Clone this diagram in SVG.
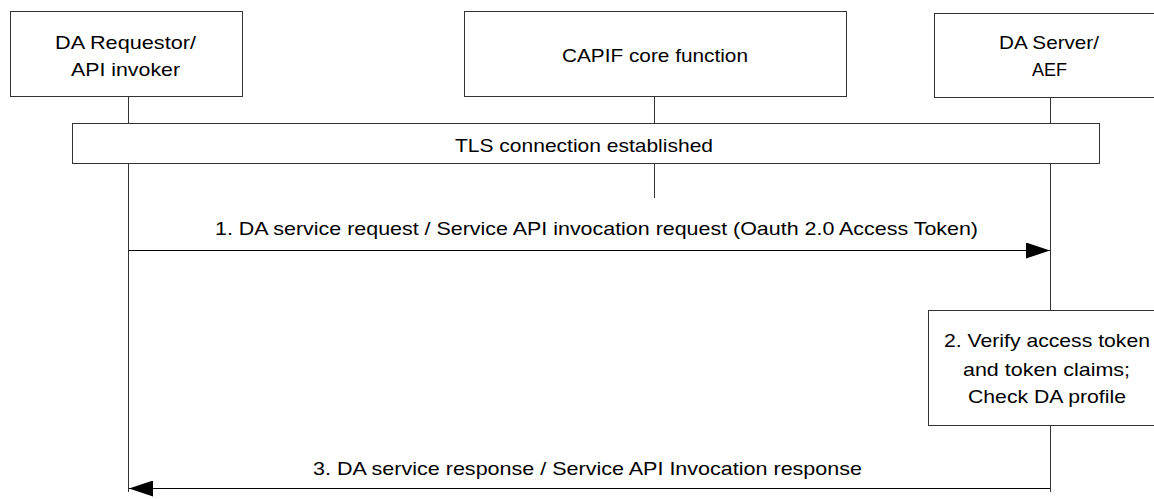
<svg xmlns="http://www.w3.org/2000/svg" width="1154" height="499" viewBox="0 0 1154 499">
<defs>
<style>
.box{fill:#fff;stroke:#333;stroke-width:1}
.life{stroke:#333;stroke-width:1;fill:none}
.msg{stroke:#000;stroke-width:1;fill:none}
text{font-family:"Liberation Sans",Arial,sans-serif;font-size:19px;fill:#000;text-anchor:middle}
</style>
<marker id="ah" viewBox="0 0 24 16" refX="24" refY="8" markerWidth="24" markerHeight="16" markerUnits="userSpaceOnUse" orient="auto">
<path d="M0,0 L24,8 L0,16 Z" fill="#000"/>
</marker>
</defs>
<g id="lifelines">
<line class="life" x1="128.5" y1="96" x2="128.5" y2="492"/>
<line class="life" x1="654.5" y1="96" x2="654.5" y2="198"/>
<line class="life" x1="1050.5" y1="97" x2="1050.5" y2="492"/>
</g>
<g id="node-requestor">
<rect class="box" x="10.5" y="11.5" width="232" height="85"/>
<text x="125.5" y="49" textLength="141" lengthAdjust="spacingAndGlyphs">DA Requestor/</text>
<text x="125.5" y="76" textLength="109" lengthAdjust="spacingAndGlyphs">API invoker</text>
</g>
<g id="node-capif">
<rect class="box" x="464.5" y="11.5" width="382" height="85"/>
<text x="655" y="62" textLength="186" lengthAdjust="spacingAndGlyphs">CAPIF core function</text>
</g>
<g id="node-server">
<rect class="box" x="934.5" y="13.5" width="230" height="84"/>
<text x="1049" y="49" textLength="100" lengthAdjust="spacingAndGlyphs">DA Server/</text>
<text x="1049.5" y="76" textLength="35" lengthAdjust="spacingAndGlyphs">AEF</text>
</g>
<g id="node-tls">
<rect class="box" x="72.5" y="123.5" width="1027" height="40"/>
<text x="584" y="152" textLength="258" lengthAdjust="spacingAndGlyphs">TLS connection established</text>
</g>
<g id="connectors">
<line class="msg" x1="128.5" y1="250.5" x2="1050" y2="250.5" marker-end="url(#ah)"/>
<text x="596.5" y="235" textLength="763" lengthAdjust="spacingAndGlyphs">1. DA service request / Service API invocation request (Oauth 2.0 Access Token)</text>
<line class="msg" x1="1050" y1="488.5" x2="129" y2="488.5" marker-end="url(#ah)"/>
<text x="587.5" y="475" textLength="549" lengthAdjust="spacingAndGlyphs">3. DA service response / Service API Invocation response</text>
</g>
<g id="node-verify">
<rect class="box" x="928.5" y="310.5" width="240" height="115"/>
<text x="1047" y="347" textLength="206" lengthAdjust="spacingAndGlyphs">2. Verify access token</text>
<text x="1046.5" y="376" textLength="167" lengthAdjust="spacingAndGlyphs">and token claims;</text>
<text x="1047" y="403" textLength="158" lengthAdjust="spacingAndGlyphs">Check DA profile</text>
</g>
</svg>
